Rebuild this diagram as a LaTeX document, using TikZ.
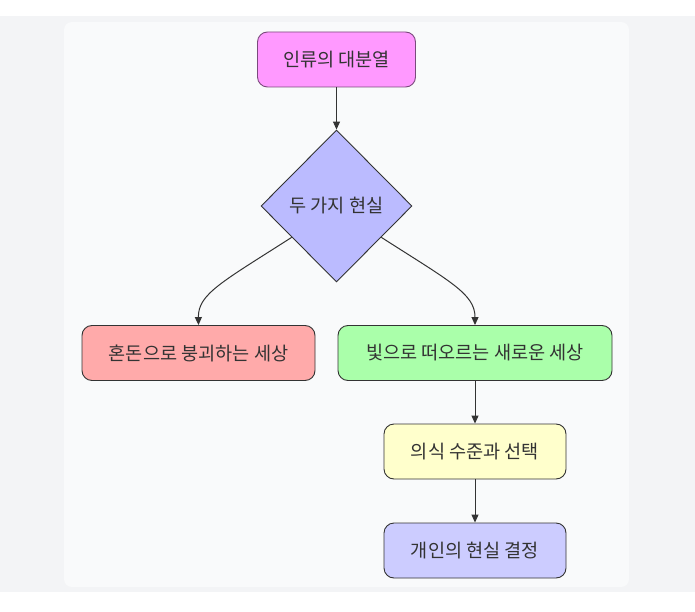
\documentclass[tikz,border=0pt]{standalone}
\usepackage{fontspec}
\setmainfont{Noto Sans CJK KR}
\usetikzlibrary{shapes.geometric,arrows.meta,calc}
\definecolor{bgout}{HTML}{F3F4F6}
\definecolor{bgpanel}{HTML}{F9FAFB}
\definecolor{edge}{HTML}{333333}
\definecolor{txt}{HTML}{333333}
\definecolor{cpink}{HTML}{FF99FF}
\definecolor{cpinkb}{HTML}{7A4A7C}
\definecolor{cdia}{HTML}{BBBBFF}
\definecolor{cred}{HTML}{FFAAAA}
\definecolor{cgreen}{HTML}{AAFFAA}
\definecolor{cyellow}{HTML}{FFFFCC}
\definecolor{clav}{HTML}{CCCCFF}
\tikzset{
  box/.style={draw=edge, line width=0.9pt, rounded corners=10pt, inner sep=0pt,
    minimum height=55pt, text=txt, font=\fontsize{18.6}{22}\selectfont},
  dia/.style={draw=edge, line width=0.9pt, diamond, inner sep=0pt, fill=cdia,
    minimum width=151pt, minimum height=152pt, text=txt, font=\fontsize{18.6}{22}\selectfont},
  conn/.style={draw=edge, line width=1pt, -{Triangle[length=8pt,width=7pt]}},
}
\begin{document}
\begin{tikzpicture}[x=1pt,y=-1pt]
\useasboundingbox (0,0) rectangle (695,612);
\fill[white] (0,0) rectangle (695,612);
\fill[bgout] (0,16) rectangle (695,592);
\fill[bgpanel, rounded corners=8pt] (64,22) rectangle (629,587);

\node[box, fill=cpink, draw=cpinkb, minimum width=158pt] (a) at (336.5,59.5) {인류의 대분열};
\node[dia] (d) at (336.5,206) {두 가지 현실};
\node[box, fill=cred, minimum width=233pt] (l) at (198.5,353) {혼돈으로 붕괴하는 세상};
\node[box, fill=cgreen, minimum width=274pt] (r) at (475,353) {빛으로 떠오르는 새로운 세상};
\node[box, fill=cyellow, minimum width=182pt] (c) at (475,451.5) {의식 수준과 선택};
\node[box, fill=clav, minimum width=182pt] (e) at (475,550.5) {개인의 현실 결정};

\coordinate (dl) at ($(d.west)!0.41!(d.south)$);
\coordinate (dr) at ($(d.east)!0.41!(d.south)$);

\draw[conn] (a.south) -- (d.north);
\draw[conn] (dl) .. controls (222,282) and (198,294) .. (l.north);
\draw[conn] (dr) .. controls (451,282) and (475,294) .. (r.north);
\draw[conn] (r.south) -- (c.north);
\draw[conn] (c.south) -- (e.north);
\end{tikzpicture}
\end{document}
